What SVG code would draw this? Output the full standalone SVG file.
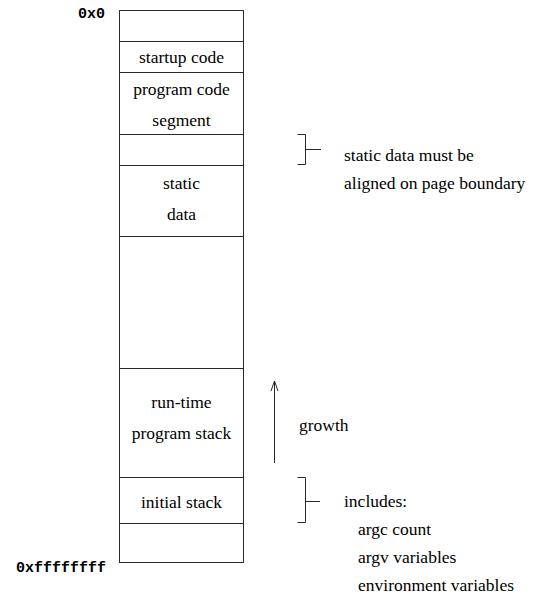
<svg xmlns="http://www.w3.org/2000/svg" width="537" height="597" viewBox="0 0 537 597">
<style>
.ln{stroke:#2a2a2a;stroke-width:1;fill:none}
</style>
<rect width="537" height="597" fill="#fff"/>
<g id="addr-top"><text x="78" y="18" font-family="Liberation Mono" font-size="15" font-weight="bold">0x0</text></g>
<g id="addr-bottom"><text x="16" y="572" font-family="Liberation Mono" font-size="15" font-weight="bold">0xffffffff</text></g>
<g id="seg-empty-top"><rect class="ln" x="119.5" y="10.5" width="124" height="31"/></g>
<g id="seg-startup"><rect class="ln" x="119.5" y="41.5" width="124" height="31"/><text x="181.5" y="63" font-family="Liberation Serif" font-size="17.5" text-anchor="middle">startup code</text></g>
<g id="seg-code"><rect class="ln" x="119.5" y="72.5" width="124" height="62"/><text x="181.5" y="95" font-family="Liberation Serif" font-size="17.5" text-anchor="middle">program code</text><text x="181.5" y="126" font-family="Liberation Serif" font-size="17.5" text-anchor="middle">segment</text></g>
<g id="seg-pad"><rect class="ln" x="119.5" y="134.5" width="124" height="31"/></g>
<g id="seg-static"><rect class="ln" x="119.5" y="165.5" width="124" height="71"/><text x="181.5" y="189" font-family="Liberation Serif" font-size="17.5" text-anchor="middle">static</text><text x="181.5" y="220" font-family="Liberation Serif" font-size="17.5" text-anchor="middle">data</text></g>
<g id="seg-free"><rect class="ln" x="119.5" y="236.5" width="124" height="132"/></g>
<g id="seg-stack"><rect class="ln" x="119.5" y="368.5" width="124" height="109"/><text x="181.5" y="408" font-family="Liberation Serif" font-size="17.5" text-anchor="middle">run-time</text><text x="181.5" y="439" font-family="Liberation Serif" font-size="17.5" text-anchor="middle">program stack</text></g>
<g id="seg-initial"><rect class="ln" x="119.5" y="477.5" width="124" height="46"/><text x="181.5" y="508" font-family="Liberation Serif" font-size="17.5" text-anchor="middle">initial stack</text></g>
<g id="seg-empty-bottom"><rect class="ln" x="119.5" y="523.5" width="124" height="39"/></g>
<g id="connectors">
<path class="ln" d="M297.5,134.5 H305.5 V164.5 H297.5 M305.5,149.5 H321"/>
<path class="ln" d="M297.5,477.5 H305.5 V522.5 H297.5 M305.5,501.5 H320"/>
<path class="ln" d="M274.5,463 V381 M271,391 L274.5,381 L278,391"/>
</g>
<g id="note-static"><text x="344" y="161" font-family="Liberation Serif" font-size="17.5">static data must be</text><text x="344" y="189" font-family="Liberation Serif" font-size="17.5">aligned on page boundary</text></g>
<g id="note-growth"><text x="299" y="431" font-family="Liberation Serif" font-size="17.5">growth</text></g>
<g id="note-includes"><text x="344" y="507" font-family="Liberation Serif" font-size="17.5">includes:</text><text x="358" y="535" font-family="Liberation Serif" font-size="17.5">argc count</text><text x="358" y="563" font-family="Liberation Serif" font-size="17.5">argv variables</text><text x="358" y="591" font-family="Liberation Serif" font-size="17.5">environment variables</text></g>
</svg>
